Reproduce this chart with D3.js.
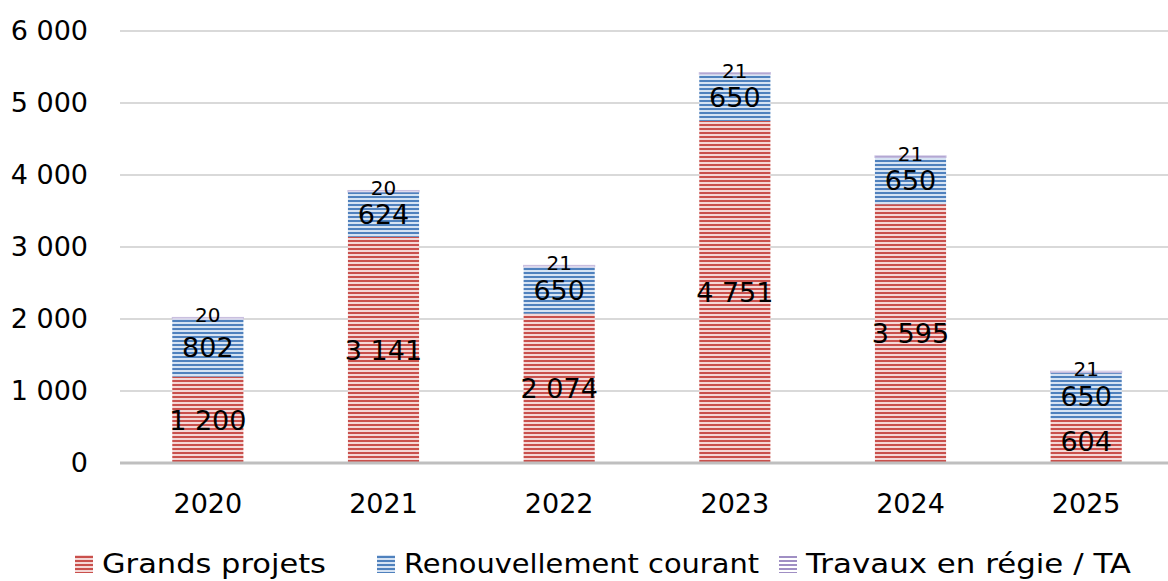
<!DOCTYPE html>
<html>
<head>
<meta charset="utf-8">
<script src="https://cdn.jsdelivr.net/npm/d3@7"></script>
<style>
  body { margin: 0; background: #fff; }
  svg text { font-family: "DejaVu Sans", sans-serif; fill: #000; }
</style>
</head>
<body>
<div id="chart"></div>
<script>
////// DATA ////////
var years = ["2020", "2021", "2022", "2023", "2024", "2025"];
var grandsProjets = [1200, 3141, 2074, 4751, 3595, 604];
var renouvellement = [802, 624, 650, 650, 650, 650];
var travaux = [20, 20, 21, 21, 21, 21];
var seriesNames = ["Grands projets", "Renouvellement courant", "Travaux en régie / TA"];
var yTicks = [0, 1000, 2000, 3000, 4000, 5000, 6000];
///////////////////

var w = 1168, h = 581;
var margin = {left: 120, right: -6, top: 31, bottom: 118};

var svg = d3.select("#chart").append("svg")
  .attr("width", w)
  .attr("height", h);

// striped patterns
var defs = svg.append("defs");
var patterns = [
  {id: "pRed", bg: "#f4d7d6", fg: "#c9504c"},
  {id: "pBlue", bg: "#d6e3f3", fg: "#4f81bd"},
  {id: "pPurple", bg: "#ffffff", fg: "#a08fc4"}
];
patterns.forEach(function (p) {
  var pat = defs.append("pattern")
    .attr("id", p.id)
    .attr("patternUnits", "userSpaceOnUse")
    .attr("width", 8).attr("height", 4);
  pat.append("rect").attr("width", 8).attr("height", 4).attr("fill", p.bg);
  pat.append("rect").attr("y", 0).attr("width", 8).attr("height", 2).attr("fill", p.fg);
});

var x = d3.scaleBand()
  .domain(years)
  .range([margin.left, w - margin.right])
  .paddingInner(0.595)
  .paddingOuter(0.2975);

var y = d3.scaleLinear()
  .domain([0, 6000])
  .range([h - margin.bottom, margin.top]);

var fmt = function (d) { return d3.format(",")(d).replace(/,/g, " "); };

// gridlines
svg.append("g")
  .selectAll("line")
  .data(yTicks.slice(1))
  .enter()
  .append("line")
  .attr("x1", margin.left)
  .attr("x2", w)
  .attr("y1", function (d) { return y(d); })
  .attr("y2", function (d) { return y(d); })
  .attr("stroke", "#d9d9d9")
  .attr("stroke-width", 2);

// y axis labels
var yAxis = d3.axisLeft(y)
  .tickValues(yTicks)
  .tickSize(0)
  .tickPadding(0)
  .tickFormat(fmt);

svg.append("g")
  .attr("transform", "translate(88,0)")
  .call(yAxis)
  .call(function (g) { g.select(".domain").remove(); })
  .selectAll("text")
  .attr("font-size", 27)
  .attr("font-family", "DejaVu Sans")
  .attr("fill", "#000");

// stack data
var table = years.map(function (yr, i) {
  return {year: yr, g: grandsProjets[i], r: renouvellement[i], t: travaux[i]};
});
var stack = d3.stack().keys(["g", "r", "t"])(table);
var fills = ["url(#pRed)", "url(#pBlue)", "url(#pPurple)"];

var layers = svg.selectAll(".layer")
  .data(stack)
  .enter()
  .append("g")
  .attr("class", "layer")
  .attr("fill", function (d, i) { return fills[i]; });

layers.selectAll("rect")
  .data(function (d) { return d; })
  .enter()
  .append("rect")
  .attr("x", function (d) { return x(d.data.year); })
  .attr("width", x.bandwidth())
  .attr("y", function (d) { return y(d[1]); })
  .attr("height", function (d) { return y(d[0]) - y(d[1]); });

// purple outline on the thin top segment
svg.append("g")
  .selectAll("rect")
  .data(stack[2])
  .enter()
  .append("rect")
  .attr("x", function (d) { return x(d.data.year); })
  .attr("width", x.bandwidth())
  .attr("y", function (d) { return y(d[1]); })
  .attr("height", function (d) { return y(d[0]) - y(d[1]); })
  .attr("fill", "none")
  .attr("stroke", "#c9bfe0")
  .attr("stroke-width", 1);

// value labels: centred in segments, the tiny top one sits on the bar top
stack.forEach(function (layer, li) {
  svg.append("g")
    .selectAll("text")
    .data(layer)
    .enter()
    .append("text")
    .attr("x", function (d) { return x(d.data.year) + x.bandwidth() / 2; })
    .attr("y", function (d) {
      if (li == 2) return y(d[1]) + 5;
      return y((d[0] + d[1]) / 2);
    })
    .attr("dy", li == 2 ? 0 : "0.36em")
    .attr("text-anchor", "middle")
    .attr("font-size", li == 2 ? 20 : 27)
    .text(function (d) { return fmt(d[1] - d[0]); });
});

// baseline
svg.append("line")
  .attr("x1", margin.left)
  .attr("x2", w)
  .attr("y1", y(0))
  .attr("y2", y(0))
  .attr("stroke", "#bfbfbf")
  .attr("stroke-width", 3);

// x axis labels
svg.append("g")
  .selectAll("text")
  .data(years)
  .enter()
  .append("text")
  .attr("x", function (d) { return x(d) + x.bandwidth() / 2; })
  .attr("y", 513)
  .attr("text-anchor", "middle")
  .attr("font-size", 27)
  .text(function (d) { return d; });

// legend
var legendX = [75, 377, 779];
var legendLen = [224, 355, 325];
var legend = svg.append("g");
seriesNames.forEach(function (name, i) {
  legend.append("rect")
    .attr("x", legendX[i])
    .attr("y", 555)
    .attr("width", 18)
    .attr("height", 18)
    .attr("fill", fills[i]);
  legend.append("text")
    .attr("x", legendX[i] + 27)
    .attr("y", 573)
    .attr("font-size", 27)
    .attr("textLength", legendLen[i])
    .attr("lengthAdjust", "spacingAndGlyphs")
    .text(name);
});
</script>
</body>
</html>
